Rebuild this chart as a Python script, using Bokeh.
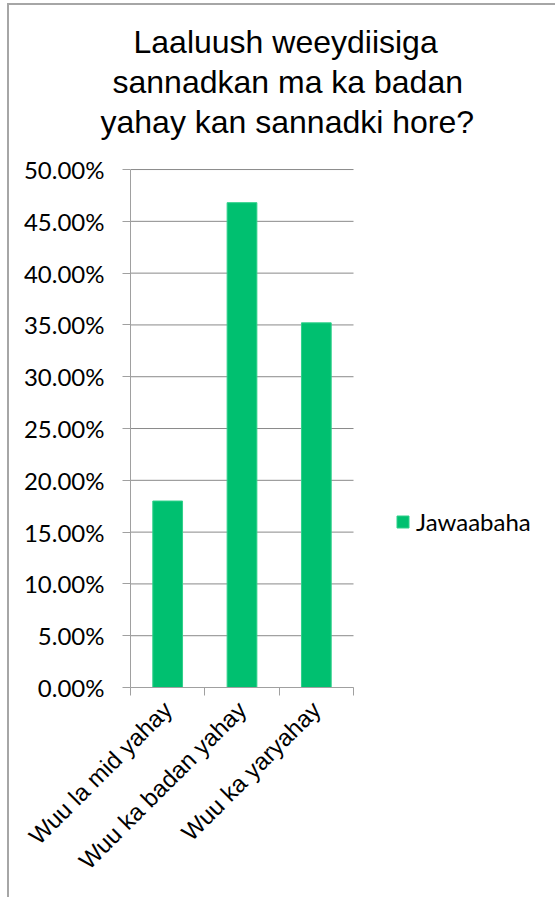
from math import pi
from bokeh.plotting import figure
from bokeh.models import (FixedTicker, NumeralTickFormatter, Title, Legend,
                          LegendItem, Range1d, ColumnDataSource)
from bokeh.embed import file_html
from bokeh.resources import INLINE

# ---- data ----
categories = ["Wuu la mid yahay", "Wuu ka badan yahay", "Wuu ka yaryahay"]
values = [0.180, 0.468, 0.352]
series_name = "Jawaabaha"
title_lines = ["Laaluush weeydiisiga", "sannadkan ma ka badan", "yahay kan sannadki hore?"]
y_ticks = [0.0, 0.05, 0.10, 0.15, 0.20, 0.25, 0.30, 0.35, 0.40, 0.45, 0.50]

# category slots on a numeric scale
n = len(categories)
xpos = [i + 0.5 for i in range(n)]
bounds = [float(i) for i in range(n + 1)]

src = ColumnDataSource(dict(x=xpos, top=values, cat=categories))
grid_src = ColumnDataSource(dict(y=y_ticks, x0=[0.0] * len(y_ticks), x1=[float(n)] * len(y_ticks)))

# ---- layout (pixels) ----
OX, OY = 9, 5                  # canvas offset inside the chart border
W, H = 557 - OX, 899 - OY
LEFT, PLOT_RIGHT, TOP, BOTTOM = 130, 353, 168, 687
frame_w = 557 - LEFT           # frame runs to the right edge so the legend is not clipped
x_end = n * frame_w / (PLOT_RIGHT - LEFT)

p = figure(width=W, height=H, output_backend="svg", toolbar_location=None,
           x_range=Range1d(0, x_end), y_range=Range1d(0, 0.501),
           min_border_left=LEFT - OX, min_border_right=0,
           min_border_top=TOP - OY, min_border_bottom=899 - BOTTOM)
p.outline_line_color = None
p.background_fill_color = "white"
p.border_fill_color = "white"
p.styles = {"border-left": "2px solid #a6a6a6", "border-top": "2px solid #a6a6a6",
            "margin-left": "7px", "margin-top": "3px"}

# horizontal gridlines limited to the category area
p.xgrid.visible = False
p.ygrid.visible = False
p.segment(x0="x0", x1="x1", y0="y", y1="y", source=grid_src,
          line_color="#8a8a8a", line_width=1)

r = p.vbar(x="x", top="top", width=0.4, source=src,
           fill_color="#00C070", line_color="#2fd08a", line_width=1)

# y axis
ya = p.yaxis[0]
ya.ticker = FixedTicker(ticks=y_ticks)
ya.formatter = NumeralTickFormatter(format="0.00%")
ya.axis_line_color = "#a0a0a0"
ya.major_tick_line_color = "#a0a0a0"
ya.major_tick_out = 8
ya.major_tick_in = 0
ya.minor_tick_line_color = None
ya.major_label_standoff = 18
ya.major_label_text_font = "Lato"
ya.major_label_text_font_size = "24px"
ya.major_label_text_color = "#000000"
ya.bounds = (0, 0.5)

# x axis
xa = p.xaxis[0]
xa.bounds = (0, n)
xa.ticker = FixedTicker(ticks=xpos, minor_ticks=bounds)
xa.major_label_overrides = {xv: c for xv, c in zip(xpos, categories)}
xa.axis_line_color = "#a0a0a0"
xa.major_tick_line_color = None
xa.major_tick_out = 0
xa.major_tick_in = 0
xa.minor_tick_line_color = "#a0a0a0"
xa.minor_tick_out = 8
xa.minor_tick_in = 0
xa.major_label_orientation = pi / 4
xa.major_label_standoff = 10
xa.major_label_text_font = "Liberation Sans"
xa.major_label_text_font_size = "24px"
xa.major_label_text_color = "#000000"

# title: spacer next to the frame, then the three lines (first added sits closest to the frame)
p.add_layout(Title(text=" ", text_font_size="2px", standoff=24), "above")
line_left = [133, 112, 100]    # left edge of each title line, page pixels
for t, lx in reversed(list(zip(title_lines, line_left))):
    p.add_layout(Title(text=t, align="left", offset=lx - LEFT,
                       text_font="Liberation Sans", text_font_size="32px",
                       text_font_style="normal", text_color="#000000",
                       standoff=2), "above")

# legend (inside the frame area, to the right of the bars)
legend = Legend(items=[LegendItem(label=series_name, renderers=[r])],
                location=(395 - LEFT, 151), orientation="vertical",
                glyph_width=15, glyph_height=15, label_standoff=6,
                padding=0, margin=0, border_line_color=None,
                background_fill_alpha=0,
                label_text_font="Lato", label_text_font_size="24px",
                label_text_color="#000000")
p.add_layout(legend)

open("out.html", "w").write(file_html(p, INLINE))
